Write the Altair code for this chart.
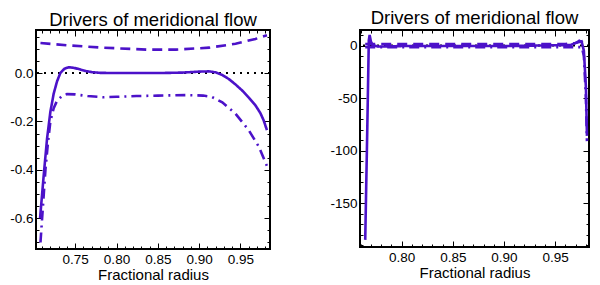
import altair as alt
import pandas as pd

COLOR = "#4c12c9"
FONT = "Liberation Sans"
TITLE = "Drivers of meridional flow"
XTITLE = "Fractional radius"

# ---------------- left panel data ----------------
left_solid_x = [0.7075, 0.712, 0.716, 0.720, 0.724, 0.728, 0.732, 0.737, 0.742, 0.748,
                0.755, 0.762, 0.770, 0.780, 0.800, 0.850, 0.880, 0.900, 0.912, 0.920,
                0.928, 0.936, 0.944, 0.952, 0.960, 0.968, 0.974, 0.978, 0.982]
left_solid_y = [-0.60, -0.42, -0.27, -0.16, -0.085, -0.035, 0.0, 0.018, 0.024, 0.022,
                0.016, 0.009, 0.004, 0.001, 0.0, 0.0, 0.002, 0.006, 0.007, 0.003,
                -0.008, -0.025, -0.047, -0.072, -0.101, -0.133, -0.165, -0.195, -0.236]

left_dashed_x = [0.708, 0.744, 0.784, 0.836, 0.872, 0.912, 0.944, 0.968, 0.982]
left_dashed_y = [0.124, 0.114, 0.105, 0.097, 0.097, 0.105, 0.121, 0.141, 0.156]

left_dashdot_x = [0.708, 0.711, 0.714, 0.717, 0.720, 0.724, 0.728, 0.734, 0.740, 0.750,
                  0.765, 0.784, 0.800, 0.824, 0.850, 0.884, 0.905, 0.915, 0.928, 0.944,
                  0.960, 0.972, 0.982]
left_dashdot_y = [-0.70, -0.55, -0.40, -0.29, -0.20, -0.145, -0.115, -0.095, -0.087, -0.088,
                  -0.095, -0.100, -0.098, -0.095, -0.093, -0.091, -0.093, -0.098, -0.121, -0.168,
                  -0.236, -0.303, -0.384]

left_xdomain = [0.7026, 0.9857]
left_ydomain = [-0.727, 0.178]
left_xmajor = [0.75, 0.80, 0.85, 0.90, 0.95]
left_xminor = [0.71, 0.72, 0.73, 0.74, 0.76, 0.77, 0.78, 0.79, 0.81, 0.82, 0.83, 0.84,
               0.86, 0.87, 0.88, 0.89, 0.91, 0.92, 0.93, 0.94, 0.96, 0.97, 0.98]
left_ymajor = [-0.6, -0.4, -0.2, 0.0]
left_yminor = [-0.70, -0.65, -0.55, -0.50, -0.45, -0.35, -0.30, -0.25, -0.15, -0.10,
               -0.05, 0.05, 0.10, 0.15]

# ---------------- right panel data ----------------
right_solid_x = [0.7645, 0.7665, 0.7680, 0.7688, 0.7700, 0.7716, 0.777, 0.800, 0.900,
                 0.965, 0.970, 0.9735, 0.976, 0.978, 0.980, 0.981]
right_solid_y = [-185.0, -80.0, 5.0, 10.0, 4.0, 0.5, -1.0, -0.5, -0.5,
                 0.5, 2.5, 4.5, 3.0, -5.0, -40.0, -86.0]

right_dashed_x = [0.7645, 0.800, 0.900, 0.960, 0.970, 0.976, 0.981]
right_dashed_y = [1.5, 1.5, 1.5, 1.5, 2.5, 4.0, 6.0]

right_dashdot_x = [0.7645, 0.800, 0.900, 0.976, 0.978, 0.980, 0.981]
right_dashdot_y = [-1.5, -1.5, -1.5, -1.5, -10.0, -50.0, -91.0]

right_xdomain = [0.7594, 0.983]
right_ydomain = [-191.8, 14.8]
right_xmajor = [0.80, 0.85, 0.90, 0.95]
right_xminor = [0.76, 0.77, 0.78, 0.79, 0.81, 0.82, 0.83, 0.84, 0.86, 0.87, 0.88, 0.89,
                0.91, 0.92, 0.93, 0.94, 0.96, 0.97, 0.98]
right_ymajor = [-150, -100, -50, 0]
right_yminor = [-190, -180, -170, -160, -140, -130, -120, -110, -90, -80, -70, -60,
                -40, -30, -20, -10, 10]

zero_line = [0.0]

SERIES = ["solid", "dashed", "dashdot"]
DASHES = [[1, 0], [10, 6], [10, 5, 2, 5]]


def make_df(sx, sy, dx, dy, ddx, ddy):
    rows = []
    for name, xs, ys in (("solid", sx, sy), ("dashed", dx, dy), ("dashdot", ddx, ddy)):
        for xv, yv in zip(xs, ys):
            rows.append({"x": xv, "y": yv, "series": name})
    return pd.DataFrame(rows)


def axis_common():
    return dict(domain=False, grid=False, tickColor="black", tickWidth=1,
                labelFont=FONT, labelFontSize=13.5, labelColor="black",
                titleFont=FONT, titleFontSize=15, titleFontWeight="normal",
                titleColor="black")


def panel(df, xdom, ydom, xmaj, xmin, ymaj, ymin, yexpr, w, h, toff):
    xs = alt.Scale(domain=xdom, nice=False, zero=False)
    ys = alt.Scale(domain=ydom, nice=False, zero=False)
    base = alt.Chart(df)

    zero = alt.Chart(pd.DataFrame({"y": zero_line})).mark_rule(
        color="black", strokeWidth=2, strokeDash=[2, 5]
    ).encode(y=alt.Y("y:Q", scale=ys, axis=None))

    lines = base.mark_line(color=COLOR, strokeWidth=2.6, clip=True).encode(
        x=alt.X("x:Q", scale=xs, axis=alt.Axis(
            orient="bottom", values=xmaj, format=".2f", tickSize=6, offset=-6,
            labelPadding=3, title=XTITLE, titlePadding=2, **axis_common())),
        y=alt.Y("y:Q", scale=ys, axis=alt.Axis(
            orient="left", values=ymaj, labelExpr=yexpr, tickSize=6, offset=-6,
            labelPadding=3, title=None, **axis_common())),
        strokeDash=alt.StrokeDash("series:N", scale=alt.Scale(domain=SERIES, range=DASHES),
                                  legend=None),
        detail="series:N",
        order="x:Q",
    )

    def ghost(xo, xv, xsz, yo, yv, ysz):
        return base.mark_point(opacity=0, size=1).encode(
            x=alt.X("x:Q", scale=xs, axis=alt.Axis(
                orient=xo, values=xv, labels=False, tickSize=xsz, offset=-xsz,
                title=None, **axis_common())),
            y=alt.Y("y:Q", scale=ys, axis=alt.Axis(
                orient=yo, values=yv, labels=False, tickSize=ysz, offset=-ysz,
                title=None, **axis_common())),
        )

    g1 = ghost("bottom", xmin, 3, "left", ymin, 3)
    g2 = ghost("top", xmaj, 6, "right", ymaj, 6)
    g3 = ghost("top", xmin, 3, "right", ymin, 3)

    return alt.layer(zero, lines, g1, g2, g3).resolve_axis(
        x="independent", y="independent"
    ).properties(
        width=w, height=h,
        title=alt.TitleParams(TITLE, font=FONT, fontSize=18.5, fontWeight="normal",
                              color="black", anchor="middle", offset=toff),
    )


left_df = make_df(left_solid_x, left_solid_y, left_dashed_x, left_dashed_y,
                  left_dashdot_x, left_dashdot_y)
right_df = make_df(right_solid_x, right_solid_y, right_dashed_x, right_dashed_y,
                   right_dashdot_x, right_dashdot_y)

MINUS = "\u2212"
left_expr = "replace(format(datum.value, '.1f'), '" + MINUS + "', '-')"
right_expr = "replace(format(datum.value, 'd'), '" + MINUS + "', '-')"

left = panel(left_df, left_xdomain, left_ydomain, left_xmajor, left_xminor,
             left_ymajor, left_yminor, left_expr, 234, 219, 0)
right = panel(right_df, right_xdomain, right_ydomain, right_xmajor, right_xminor,
              right_ymajor, right_yminor, right_expr, 229, 217, 2)

chart = alt.hconcat(left, right, spacing=56).properties(
    padding=0, background="white"
).configure_view(stroke="black", strokeWidth=2)

chart.save("out.html", embed_options={"renderer": "svg", "actions": False})
